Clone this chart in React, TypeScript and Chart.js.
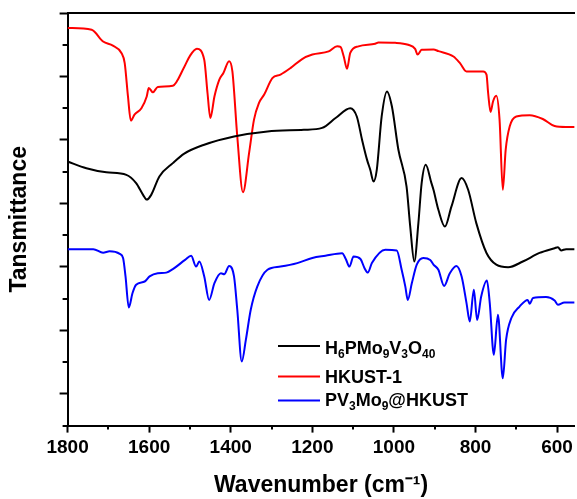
import React, { useEffect, useRef } from "react";
import { Chart, registerables } from "chart.js";

Chart.register(...registerables);

// ---- data (wavenumber in cm-1, transmittance in arbitrary offset units) ----
const BLACK_X = [1800, 1754, 1705, 1656, 1632, 1615, 1606, 1595, 1575, 1542, 1514, 1465, 1392, 1310, 1221, 1176, 1143, 1107, 1091, 1078, 1066, 1058, 1050, 1042, 1030, 1017, 1005, 989, 969, 960, 950, 940, 932, 922, 908, 903, 891, 875, 859, 834, 818, 798, 773, 749, 720, 684, 643, 606, 598, 590, 578, 557];
const BLACK_Y = [8.32, 8.11, 7.98, 7.9, 7.64, 7.27, 7.12, 7.27, 7.85, 8.27, 8.57, 8.85, 9.11, 9.27, 9.32, 9.38, 9.69, 10.0, 9.74, 9.0, 8.38, 8.06, 7.69, 8.06, 9.74, 10.53, 10.06, 8.69, 7.53, 6.27, 5.17, 6.38, 7.64, 8.22, 7.64, 7.43, 6.8, 6.27, 6.9, 7.8, 7.43, 6.38, 5.44, 5.07, 4.99, 5.17, 5.44, 5.59, 5.62, 5.52, 5.56, 5.56];

const RED_X = [1800, 1741, 1713, 1689, 1668, 1660, 1652, 1645, 1636, 1619, 1606, 1601, 1591, 1579, 1542, 1514, 1500, 1483, 1465, 1457, 1450, 1440, 1428, 1418, 1404, 1396, 1384, 1370, 1355, 1343, 1331, 1318, 1298, 1278, 1253, 1225, 1200, 1160, 1139, 1131, 1123, 1115, 1107, 1087, 1046, 1038, 997, 965, 948, 942, 932, 903, 891, 854, 838, 822, 781, 773, 769, 763, 757, 749, 741, 733, 726, 716, 700, 667, 635, 606, 578, 557];
const RED_Y = [12.53, 12.47, 12.1, 11.97, 11.74, 11.42, 10.37, 9.61, 9.8, 10.0, 10.37, 10.64, 10.5, 10.67, 10.71, 11.3, 11.65, 11.87, 11.53, 10.48, 9.69, 10.37, 10.9, 11.11, 11.48, 11.16, 9.11, 7.35, 8.59, 9.64, 10.16, 10.43, 10.95, 11.06, 11.27, 11.55, 11.69, 11.79, 11.95, 11.93, 11.63, 11.24, 11.74, 11.95, 12.03, 12.07, 12.06, 12.0, 11.87, 11.69, 11.84, 11.85, 11.8, 11.63, 11.42, 11.16, 11.16, 11.06, 10.48, 9.88, 10.21, 10.39, 9.64, 7.43, 8.69, 9.43, 9.74, 9.78, 9.66, 9.44, 9.41, 9.41];

const BLUE_X = [1800, 1737, 1713, 1697, 1672, 1664, 1658, 1650, 1641, 1632, 1611, 1599, 1579, 1558, 1542, 1512, 1497, 1485, 1477, 1465, 1453, 1440, 1424, 1416, 1404, 1392, 1384, 1373, 1363, 1351, 1335, 1310, 1278, 1237, 1200, 1168, 1127, 1118, 1109, 1099, 1082, 1072, 1064, 1054, 1021, 993, 981, 972, 966, 956, 944, 928, 911, 903, 891, 877, 863, 847, 834, 822, 814, 804, 796, 786, 772, 765, 755, 745, 733, 725, 712, 692, 672, 667, 659, 627, 606, 598, 582, 557];
const BLUE_Y = [5.56, 5.56, 5.45, 5.49, 5.41, 5.28, 4.7, 3.72, 4.17, 4.44, 4.54, 4.7, 4.8, 4.82, 4.93, 5.22, 5.35, 5.01, 5.17, 4.7, 3.96, 4.49, 4.8, 4.77, 5.03, 4.7, 3.65, 2.02, 2.7, 3.65, 4.38, 4.91, 5.01, 5.12, 5.28, 5.35, 5.43, 5.25, 5.01, 5.33, 5.25, 4.96, 4.82, 5.12, 5.54, 5.52, 4.91, 4.38, 3.96, 4.49, 5.07, 5.28, 5.22, 5.07, 4.91, 4.4, 4.8, 5.03, 4.7, 3.86, 3.28, 4.28, 3.33, 4.07, 4.57, 3.86, 2.23, 3.49, 1.49, 2.7, 3.39, 3.75, 3.96, 3.84, 4.02, 4.05, 3.94, 3.81, 3.88, 3.88];

const SERIES_NAMES = ["H6PMo9V3O40", "HKUST-1", "PV3Mo9@HKUST"];
const SERIES_COLORS = ["#000000", "#ff0000", "#0000ff"];
// legend labels as [text, isSubscript] segments
const LEGEND_PARTS: [string, boolean][][] = [
  [["H", false], ["6", true], ["PMo", false], ["9", true], ["V", false], ["3", true], ["O", false], ["40", true]],
  [["HKUST-1", false]],
  [["PV", false], ["3", true], ["Mo", false], ["9", true], ["@HKUST", false]],
];

const X_TICKS = [1800, 1600, 1400, 1200, 1000, 800, 600];
const X_MINOR = [1700, 1500, 1300, 1100, 900, 700];
const Y_MAJOR = [1, 3, 5, 7, 9, 11, 13];
const Y_MINOR = [0, 2, 4, 6, 8, 10, 12];
const X_MIN = 557;
const X_MAX = 1800;
const Y_MIN = 0;
const Y_MAX = 13;
const X_TITLE = "Wavenumber (cm⁻¹)";
const Y_TITLE = "Tansmittance";

const FONT = "'Liberation Sans', Arial, sans-serif";

const overlayPlugin = {
  id: "overlay",
  afterDraw(chart: any) {
    const { ctx, chartArea } = chart;
    const x = chart.scales.x;
    const y = chart.scales.y;
    ctx.save();
    ctx.strokeStyle = "#000";
    ctx.lineWidth = 2;
    ctx.beginPath();
    X_MINOR.forEach((v) => {
      const px = Math.round(x.getPixelForValue(v));
      ctx.moveTo(px, chartArea.bottom);
      ctx.lineTo(px, chartArea.bottom + 4);
    });
    Y_MINOR.forEach((v) => {
      const py = Math.round(y.getPixelForValue(v));
      ctx.moveTo(chartArea.left, py);
      ctx.lineTo(chartArea.left - 5, py);
    });
    ctx.stroke();

    // legend
    const lineY = [346, 376.5, 400.5];
    const baseY = [354, 383, 406];
    const x0 = 278;
    const x1 = 320;
    const tx = 325;
    LEGEND_PARTS.forEach((parts, i) => {
      ctx.strokeStyle = SERIES_COLORS[i];
      ctx.lineWidth = 2;
      ctx.beginPath();
      ctx.moveTo(x0, lineY[i]);
      ctx.lineTo(x1, lineY[i]);
      ctx.stroke();
      let cx = tx;
      ctx.fillStyle = "#000";
      ctx.textBaseline = "alphabetic";
      ctx.textAlign = "left";
      parts.forEach(([t, sub]) => {
        ctx.font = sub ? `bold 12px ${FONT}` : `bold 18px ${FONT}`;
        ctx.fillText(t, cx, baseY[i] + (sub ? 4 : 0));
        cx += ctx.measureText(t).width;
      });
    });
    ctx.restore();
  },
};

export default function App() {
  const ref = useRef<HTMLCanvasElement | null>(null);

  useEffect(() => {
    if (!ref.current) return;
    const mk = (xs: number[], ys: number[]) => xs.map((v, i) => ({ x: v, y: ys[i] }));
    const chart = new Chart(ref.current, {
      type: "line",
      data: {
        datasets: [
          { label: SERIES_NAMES[0], data: mk(BLACK_X, BLACK_Y), borderColor: SERIES_COLORS[0], xAxisID: "x", yAxisID: "y" },
          { label: SERIES_NAMES[1], data: mk(RED_X, RED_Y), borderColor: SERIES_COLORS[1], xAxisID: "x", yAxisID: "y" },
          { label: SERIES_NAMES[2], data: mk(BLUE_X, BLUE_Y), borderColor: SERIES_COLORS[2], xAxisID: "x", yAxisID: "y" },
        ],
      },
      options: {
        responsive: false,
        animation: false,
        devicePixelRatio: 1,
        layout: { padding: { left: 0, top: 13, right: 0, bottom: 0 } },
        plugins: { legend: { display: false }, tooltip: { enabled: false } },
        elements: {
          point: { radius: 0 },
          line: { borderWidth: 2, cubicInterpolationMode: "monotone", fill: false },
        },
        scales: {
          x: {
            type: "linear",
            reverse: true,
            min: X_MIN,
            max: X_MAX,
            position: "bottom",
            afterBuildTicks: (s: any) => {
              s.ticks = X_TICKS.map((v) => ({ value: v }));
            },
            grid: { display: true, drawOnChartArea: false, drawTicks: true, tickLength: 7, tickWidth: 2, tickColor: "#000" },
            border: { display: true, color: "#000", width: 2 },
            ticks: {
              color: "#000",
              font: { family: FONT, size: 19, weight: "bold" },
              padding: 4,
              maxRotation: 0,
              autoSkip: false,
              callback: (v: any) => String(v),
            },
            title: {
              display: true,
              text: X_TITLE,
              color: "#000",
              font: { family: FONT, size: 23, weight: "bold" },
              padding: { top: 8, bottom: 0 },
            },
          },
          xTop: {
            type: "linear",
            reverse: true,
            min: X_MIN,
            max: X_MAX,
            position: "top",
            grid: { display: true, drawOnChartArea: false, drawTicks: false },
            border: { display: true, color: "#000", width: 2 },
            ticks: { display: false },
          },
          y: {
            type: "linear",
            min: Y_MIN,
            max: Y_MAX,
            position: "left",
            afterBuildTicks: (s: any) => {
              s.ticks = Y_MAJOR.map((v) => ({ value: v }));
            },
            grid: { display: true, drawOnChartArea: false, drawTicks: true, tickLength: 8, tickWidth: 2, tickColor: "#000" },
            border: { display: true, color: "#000", width: 2 },
            ticks: { display: false },
            title: {
              display: true,
              text: Y_TITLE,
              color: "#000",
              font: { family: FONT, size: 23, weight: "bold" },
              padding: { top: 6, bottom: 26 },
            },
          },
        },
      } as any,
      plugins: [overlayPlugin],
    });
    return () => chart.destroy();
  }, []);

  return (
    <div style={{ position: "absolute", left: 0, top: 0, width: 577, height: 499, overflow: "hidden", background: "#fff" }}>
      <canvas ref={ref} width={577} height={499} style={{ display: "block" }} />
    </div>
  );
}
